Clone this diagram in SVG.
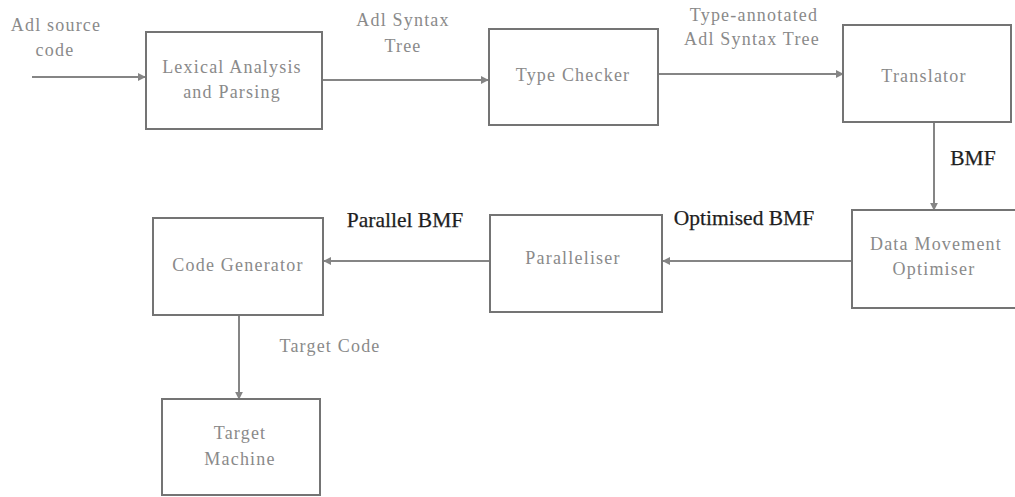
<svg xmlns="http://www.w3.org/2000/svg" width="1015" height="497" viewBox="0 0 1015 497">
  <style>
    .box { fill: #ffffff; stroke: #747474; stroke-width: 2; }
    .node-text { font-family: "Liberation Serif", "Times New Roman", serif; font-size: 18px; letter-spacing: 1.2px; fill: #8a8a8a; text-anchor: middle; }
    .edge { fill: none; stroke: #858585; stroke-width: 2; }
    .edge-label { font-family: "Liberation Serif", "Times New Roman", serif; font-size: 18px; letter-spacing: 1.2px; fill: #8a8a8a; text-anchor: middle; }
    .edge-label-dark { font-family: "Liberation Serif", "Times New Roman", serif; font-size: 21.5px; fill: #1e1e1e; stroke: #1e1e1e; stroke-width: 0.25; text-anchor: middle; }
  </style>
  <defs>
    <marker id="arrow" viewBox="0 0 10 10" refX="9" refY="5" markerWidth="8" markerHeight="8" markerUnits="userSpaceOnUse" orient="auto">
      <path d="M0,0 L10,5 L0,10 z" fill="#858585"/>
    </marker>
  </defs>
  <rect width="1015" height="497" fill="#ffffff"/>

  <!-- connectors and their labels -->
  <g id="connectors">
    <line class="edge" x1="32" y1="77" x2="145" y2="77" marker-end="url(#arrow)"/>
    <line class="edge" x1="322" y1="80" x2="488" y2="80" marker-end="url(#arrow)"/>
    <line class="edge" x1="658" y1="74" x2="843" y2="74" marker-end="url(#arrow)"/>
    <line class="edge" x1="934" y1="122" x2="934" y2="210" marker-end="url(#arrow)"/>
    <line class="edge" x1="852" y1="261" x2="663" y2="261" marker-end="url(#arrow)"/>
    <line class="edge" x1="490" y1="261" x2="324" y2="261" marker-end="url(#arrow)"/>
    <line class="edge" x1="239" y1="315" x2="239" y2="399" marker-end="url(#arrow)"/>

    <text class="edge-label" x="56" y="31">Adl source</text>
    <text class="edge-label" x="55" y="56">code</text>
    <text class="edge-label" x="403" y="26">Adl Syntax</text>
    <text class="edge-label" x="403" y="52">Tree</text>
    <text class="edge-label" x="754" y="21">Type-annotated</text>
    <text class="edge-label" x="752" y="45">Adl Syntax Tree</text>
    <text class="edge-label-dark" x="973" y="165" text-anchor="start">BMF</text>
    <text class="edge-label-dark" x="744" y="225">Optimised BMF</text>
    <text class="edge-label-dark" x="405" y="227">Parallel BMF</text>
    <text class="edge-label" x="330" y="352">Target Code</text>
  </g>

  <!-- compiler stages -->
  <g id="lexical">
    <rect class="box" x="146" y="32" width="176" height="97"/>
    <text class="node-text" x="232" y="73">Lexical Analysis</text>
    <text class="node-text" x="232" y="98">and Parsing</text>
  </g>
  <g id="typechecker">
    <rect class="box" x="489" y="29" width="169" height="96"/>
    <text class="node-text" x="573" y="81">Type Checker</text>
  </g>
  <g id="translator">
    <rect class="box" x="843" y="25" width="168" height="97"/>
    <text class="node-text" x="924" y="82">Translator</text>
  </g>
  <g id="datamovement">
    <rect class="box" x="852" y="210" width="170" height="98"/>
    <text class="node-text" x="936" y="250">Data Movement</text>
    <text class="node-text" x="934" y="275">Optimiser</text>
  </g>
  <g id="paralleliser">
    <rect class="box" x="490" y="215" width="172" height="97"/>
    <text class="node-text" x="573" y="264">Paralleliser</text>
  </g>
  <g id="codegenerator">
    <rect class="box" x="153" y="218" width="170" height="97"/>
    <text class="node-text" x="238" y="271">Code Generator</text>
  </g>
  <g id="targetmachine">
    <rect class="box" x="162" y="399" width="158" height="96"/>
    <text class="node-text" x="240" y="439">Target</text>
    <text class="node-text" x="240" y="465">Machine</text>
  </g>
</svg>
